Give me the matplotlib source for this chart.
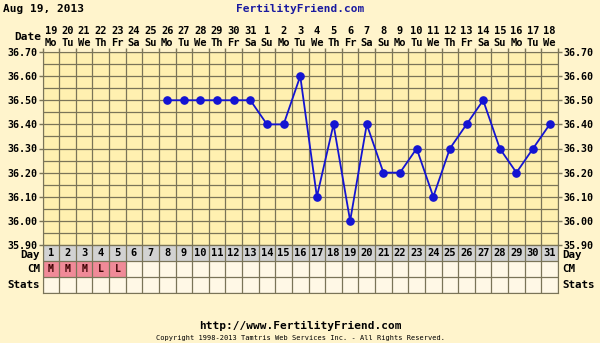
import matplotlib.pyplot as plt
from matplotlib.transforms import blended_transform_factory

# chart data
cycle_days = list(range(1, 32))
date_nums = ["19", "20", "21", "22", "23", "24", "25", "26", "27", "28", "29", "30", "31",
             "1", "2", "3", "4", "5", "6", "7", "8", "9", "10", "11", "12", "13", "14",
             "15", "16", "17", "18"]
weekdays = ["Mo", "Tu", "We", "Th", "Fr", "Sa", "Su"] * 4 + ["Mo", "Tu", "We"]
temp_days = list(range(8, 32))
temps = [36.50, 36.50, 36.50, 36.50, 36.50, 36.50, 36.40, 36.40, 36.60, 36.10,
         36.40, 36.00, 36.40, 36.20, 36.20, 36.30, 36.10, 36.30, 36.40, 36.50,
         36.30, 36.20, 36.30, 36.40]
cm_days = [1, 2, 3, 4, 5]
cm_codes = ["M", "M", "M", "L", "L"]
y_ticks = [35.90, 36.00, 36.10, 36.20, 36.30, 36.40, 36.50, 36.60, 36.70]

bg = "#fff4cc"
plot_bg = "#fff0b0"
cell_bg = "#fff8e6"
grid_c = "#7a7458"
mono = "DejaVu Sans Mono"

fig = plt.figure(figsize=(6, 3.43), dpi=100, facecolor=bg)
W, H = 600, 343
left, right = 42.5 / W, 558 / W
top_y, mid_y, bot_y = 52, 245, 293

ax = fig.add_axes([left, 1 - mid_y / H, right - left, (mid_y - top_y) / H])
tab = fig.add_axes([left, 1 - bot_y / H, right - left, (bot_y - mid_y) / H])

# temperature chart
ax.set_facecolor(plot_bg)
ax.set_xlim(0.5, 31.5)
ax.set_ylim(35.90, 36.70)
for k in range(32):
    ax.axvline(k + 0.5, color=grid_c, lw=0.9, zorder=1)
for i in range(17):
    ax.axhline(35.90 + i * 0.05, color=grid_c, lw=0.9, zorder=1)
ax.plot(temp_days, temps, color="#1414d2", lw=1.3, marker="o", markersize=5.2, zorder=3)

ax.set_yticks(y_ticks)
ax.set_yticklabels(["%.2f" % v for v in y_ticks], fontfamily=mono, fontweight="bold", fontsize=7.2)
ax.tick_params(axis="y", left=True, right=True, labelleft=True, labelright=True,
               length=3, width=1, color=grid_c, pad=1)
ax.set_xticks([k + 0.5 for k in range(32)])
ax.tick_params(axis="x", bottom=False, labelbottom=False, top=True, labeltop=False,
               length=3, width=1, color=grid_c)
for s in ax.spines.values():
    s.set_color(grid_c)

tr = blended_transform_factory(ax.transData, ax.transAxes)
for d, n, w in zip(cycle_days, date_nums, weekdays):
    ax.text(d, 1 + 21 / 193, n, transform=tr, ha="center", va="center",
            fontfamily=mono, fontweight="bold", fontsize=7.5)
    ax.text(d, 1 + 9 / 193, w, transform=tr, ha="center", va="center",
            fontfamily=mono, fontweight="bold", fontsize=7.5)
fig.text(41 / W, 1 - 37 / H, "Date", ha="right", va="center",
         fontfamily=mono, fontweight="bold", fontsize=8)

# table rows below
tab.set_facecolor(cell_bg)
tab.set_xlim(0.5, 31.5)
tab.set_ylim(0, 3)
tab.bar(cycle_days, 1, bottom=2, width=1, color="#d2d2d2", zorder=1)
tab.bar(cm_days, 1, bottom=1, width=1, color="#f08a98", zorder=1)
for k in range(32):
    tab.axvline(k + 0.5, color=grid_c, lw=0.9, zorder=2)
for j in range(4):
    tab.axhline(j, color=grid_c, lw=0.9, zorder=2)
for d in cycle_days:
    tab.text(d, 2.5, str(d), ha="center", va="center", fontfamily=mono,
             fontweight="bold", fontsize=7.5, zorder=3)
for d, c in zip(cm_days, cm_codes):
    tab.text(d, 1.5, c, ha="center", va="center", fontfamily=mono,
             fontweight="bold", fontsize=7, color="#3a0000", zorder=3)
tab.set_xticks([])
tab.set_yticks([])
for s in tab.spines.values():
    s.set_color(grid_c)
for yy, lab in zip([2.35, 1.5, 0.5], ["Day", "CM", "Stats"]):
    tab.text(-0.005, yy / 3, lab, transform=tab.transAxes, ha="right", va="center",
             fontfamily=mono, fontweight="bold", fontsize=7.8)
    tab.text(1.008, yy / 3, lab, transform=tab.transAxes, ha="left", va="center",
             fontfamily=mono, fontweight="bold", fontsize=7.8)

# header and footer
fig.text(3 / W, 1 - 9 / H, "Aug 19, 2013", ha="left", va="center",
         fontfamily=mono, fontweight="bold", fontsize=8)
fig.text(0.5, 1 - 9 / H, "FertilityFriend.com", ha="center", va="center",
         fontfamily=mono, fontweight="bold", fontsize=8, color="#1a1aa0")
fig.text(0.5, 1 - 326 / H, "http://www.FertilityFriend.com", ha="center", va="center",
         fontfamily=mono, fontweight="bold", fontsize=8)
fig.text(0.5, 1 - 338 / H, "Copyright 1998-2013 Tamtris Web Services Inc. - All Rights Reserved.",
         ha="center", va="center", fontfamily=mono, fontsize=5)

fig.savefig("out.png", dpi=100, facecolor=bg)
